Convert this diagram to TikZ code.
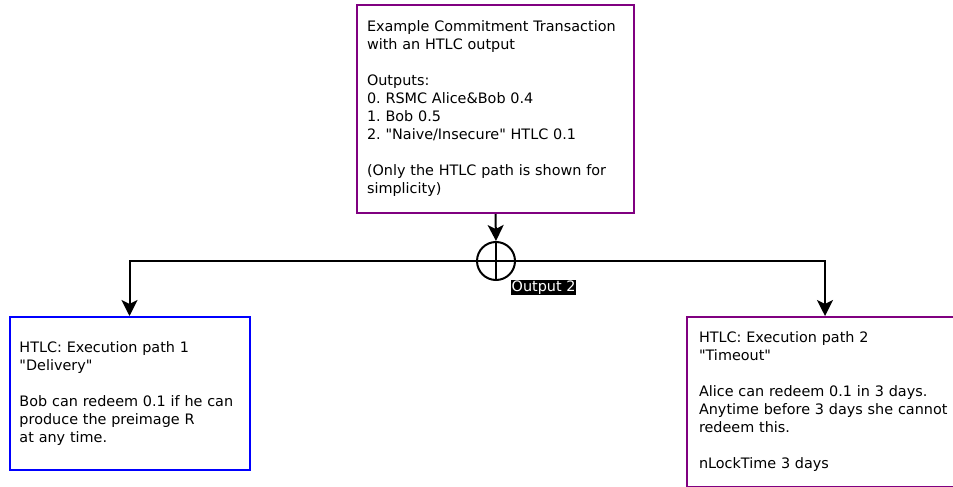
\documentclass[tikz,border=0pt]{standalone}
\usepackage{fontspec}
\setmainfont{DejaVu Sans}[Ligatures=TeXOff]
\usetikzlibrary{arrows.meta}
\definecolor{txpurple}{RGB}{128,0,128}
\frenchspacing
\begin{document}
\begin{tikzpicture}[x=1pt,y=-1pt]

    \tikzset{
      txbox/.style={
        draw,
        line width=2pt,
        align=left,
        inner sep=0pt,
        font=\fontsize{14.4}{18}\selectfont,
      },
      outcircle/.style={
        circle,
        draw,
        line width=2pt,
        inner sep=0pt,
        minimum size=38pt,
        path picture={\draw[line width=2pt]
          (path picture bounding box.north) -- (path picture bounding box.south)
          (path picture bounding box.west) -- (path picture bounding box.east);},
      },
      arr/.style={
        line width=2pt,
        -{Stealth[length=16pt,width=16pt,inset=4pt]},
      },
    }
    \useasboundingbox (0,0) rectangle (953,487);
    \node[txbox, color={txpurple}, text=black, minimum width=277pt, minimum height=208pt, text width=257pt] (tx) at (495.5,109)
      {Example Commitment Transaction\\ with an HTLC output\\[18pt] Outputs:\\ 0. RSMC Alice\&Bob 0.4\\ 1. Bob 0.5\\ 2. "Naive/Insecure" HTLC 0.1\\[18pt] (Only the HTLC path is shown for\\ simplicity)};
    \node[outcircle] (out) at (496,261) {};
    \node[fill=black, text=white, inner sep=0.5pt, anchor=north west, font=\fontsize{14.4}{18}\selectfont] (outlabel) at (511,280) {Output 2};
	\node[txbox, color={blue}, text=black, minimum width=240pt, minimum height=153pt, text width=220pt] (path1) at (129.5,393.5)
      {HTLC: Execution path 1\\ "Delivery"\\[18pt] Bob can redeem 0.1 if he can\\ produce the preimage R\\ at any time.};
	\node[txbox, color={txpurple}, text=black, minimum width=276pt, minimum height=170pt, text width=252pt] (path2) at (825,402)
      {HTLC: Execution path 2\\ "Timeout"\\[18pt] Alice can redeem 0.1 in 3 days.\\ Anytime before 3 days she cannot\\ redeem this.\\[18pt] nLockTime 3 days};
	\draw[arr] (tx.south) -- (out.north);
	\draw[arr] (out.west) -| (path1.north);
	\draw[arr] (out.east) -| (path2.north);

\end{tikzpicture}
\end{document}
